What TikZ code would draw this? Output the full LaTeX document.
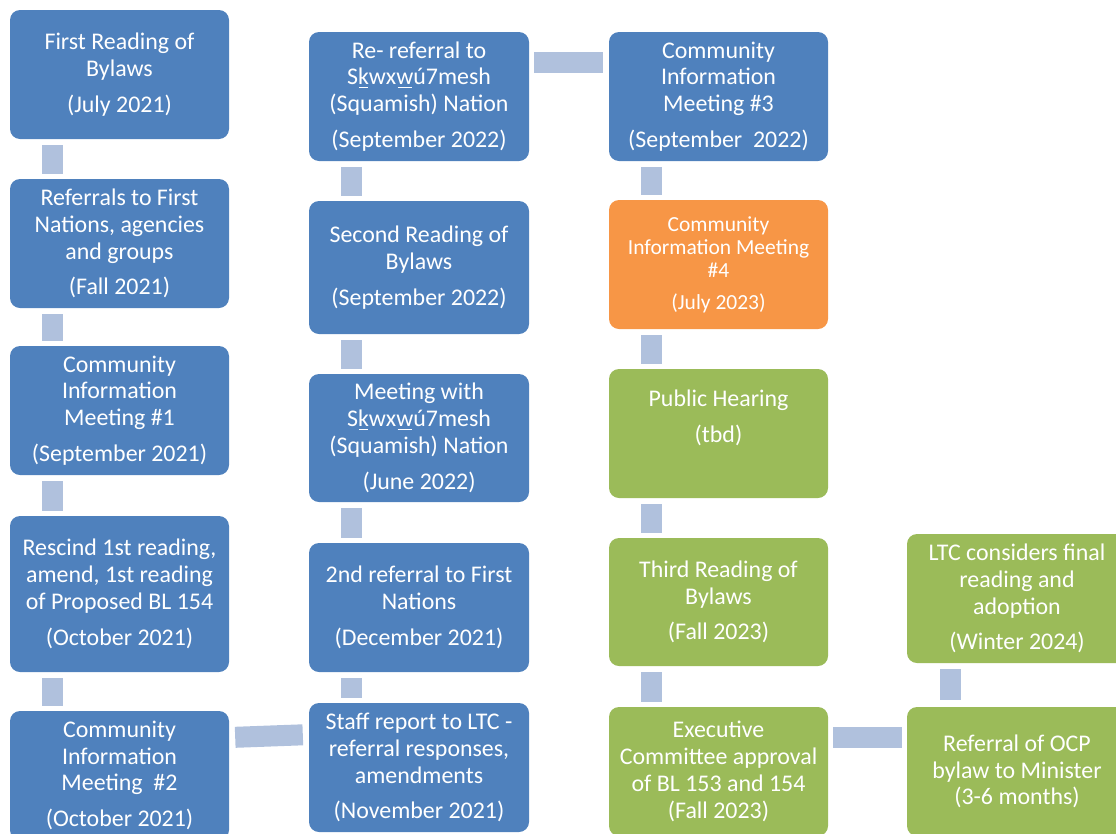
\documentclass[tikz,border=0pt]{standalone}
\usepackage{fontspec}
\setmainfont{Carlito}
\usetikzlibrary{calc}
\definecolor{bx}{RGB}{79,129,189}
\definecolor{og}{RGB}{247,150,70}
\definecolor{gr}{RGB}{155,187,89}
\definecolor{cn}{RGB}{176,193,221}
\newcommand\ulc[1]{\leavevmode\setbox0\hbox{#1}\rlap{\hbox to\wd0{\hss\rule[-3.5pt]{0.85\wd0}{1.4pt}\hss}}\box0}
\tikzset{
  box/.style={rectangle, rounded corners=10pt, fill=bx, text=white, align=center,
    inner sep=0pt, font=\fontsize{23.9}{26.8}\selectfont,
    minimum width=219pt, minimum height=129pt},
  conn/.style={draw=cn, line width=21pt},
}
\begin{document}
\begin{tikzpicture}[x=1pt,y=-1pt]
\clip (0,0) rectangle (1116,833);
% column 1
\node[box] (a1) at (119.5,74.5) {First Reading of\\Bylaws\\[9pt](July 2021)};
\node[box] (a2) at (119.5,243.5) {Referrals to First\\Nations, agencies\\and groups\\[9pt](Fall 2021)};
\node[box] (a3) at (119.5,410.5) {Community\\Information\\Meeting \#1\\[9pt](September 2021)};
\node[box, minimum height=156pt] (a4) at (119.5,594) {Rescind 1st reading,\\amend, 1st reading\\of Proposed BL 154\\[9pt](October 2021)};
\node[box] (a5) at (119.5,775.5) {Community\\Information\\Meeting\ \ \#2\\[9pt](October 2021)};
% column 2
\node[box, minimum width=220pt] (b1) at (419,96.5) {Re- referral to\\S\ulc{k}wx\ulc{w}ú7mesh\\(Squamish) Nation\\[9pt](September 2022)};
\node[box, minimum width=220pt, minimum height=133pt] (b2) at (419,267.5) {Second Reading of\\Bylaws\\[9pt](September 2022)};
\node[box, minimum width=220pt, minimum height=128pt] (b3) at (419,438) {Meeting with\\S\ulc{k}wx\ulc{w}ú7mesh\\(Squamish) Nation\\[9pt](June 2022)};
\node[box, minimum width=220pt] (b4) at (419,607.5) {2nd referral to First\\Nations\\[9pt](December 2021)};
\node[box, minimum width=220pt] (b5) at (419,767.5) {Staff report to LTC -\\referral responses,\\amendments\\[9pt](November 2021)};
% column 3
\node[box] (c1) at (718.5,96.5) {Community\\Information\\Meeting \#3\\[9pt](September\ \ 2022)};
\node[box, fill=og, font=\fontsize{21.5}{23}\selectfont] (c2) at (718.5,264.5) {Community\\Information Meeting\\\#4\\[9pt](July 2023)};
\node[box, fill=gr] (c3) at (718.5,433.5) {Public Hearing\\[9pt](tbd)\\\strut};
\node[box, fill=gr, minimum height=128pt] (c4) at (718.5,602) {Third Reading of\\Bylaws\\[9pt](Fall 2023)};
\node[box, fill=gr] (c5) at (718.5,771.5) {Executive\\Committee approval\\of BL 153 and 154\\(Fall 2023)};
% column 4
\node[box, fill=gr, minimum width=220pt] (d4) at (1017,598.5) {LTC considers final\\reading and\\adoption\\[9pt](Winter 2024)};
\node[box, fill=gr, minimum width=220pt] (d5) at (1017,771.5) {Referral of OCP\\bylaw to Minister\\(3-6 months)};
% vertical connectors
\foreach \u/\v in {a1/a2,a2/a3,a3/a4,a4/a5,b1/b2,b2/b3,b3/b4,b4/b5,c1/c2,c2/c3,c3/c4,c4/c5}
  \draw[conn] ($(\u.south west)+(42.5,6)$) -- ($(\v.north west)+(42.5,-5)$);
\draw[conn] ($(d5.north west)+(43.5,-7)$) -- ($(d4.south west)+(43.5,6)$);
% horizontal connectors
\draw[conn] ($(b1.north east)+(5,30.5)$) -- ($(c1.north west)+(-6,30.5)$);
\draw[conn] ($(a5.north east)+(6,26.5)$) -- ($(b5.north west)+(-6,32)$);
\draw[conn] ($(c5.north east)+(5,30.5)$) -- ($(d5.north west)+(-5,30.5)$);
\end{tikzpicture}
\end{document}
